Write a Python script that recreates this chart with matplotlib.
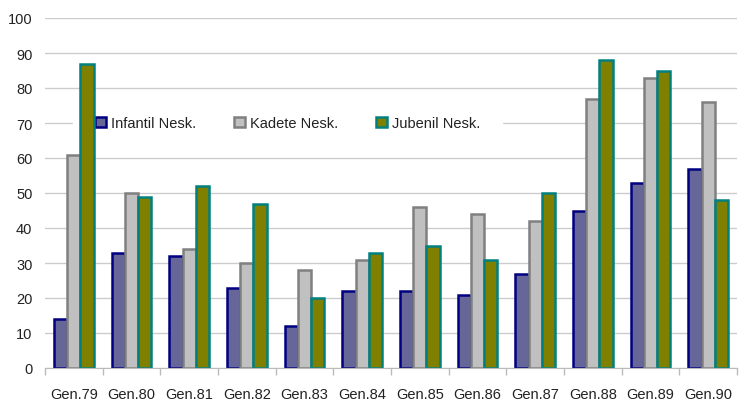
from matplotlib import pyplot as plt
import numpy as np

categories = ["Gen.79", "Gen.80", "Gen.81", "Gen.82", "Gen.83", "Gen.84",
              "Gen.85", "Gen.86", "Gen.87", "Gen.88", "Gen.89", "Gen.90"]
infantil = [14, 33, 32, 23, 12, 22, 22, 21, 27, 45, 53, 57]
kadete = [61, 50, 34, 30, 28, 31, 46, 44, 42, 77, 83, 76]
jubenil = [87, 49, 52, 47, 20, 33, 35, 31, 50, 88, 85, 48]

plt.rcParams['font.family'] = ['Liberation Sans', 'DejaVu Sans']

fig = plt.figure(figsize=(7.42, 4.02), dpi=100)
ax = fig.add_axes([45/742, 33/402, 692/742, 350/402])

x = np.arange(len(categories))
w = 0.23
series = [
    (infantil, "Infantil Nesk.", "#666699", "#000080"),
    (kadete, "Kadete Nesk.", "#C0C0C0", "#808080"),
    (jubenil, "Jubenil Nesk.", "#808000", "#008080"),
]
for i, (vals, label, face, edge) in enumerate(series):
    ax.bar(x + (i - 1) * w, vals, width=w, color=face, edgecolor=edge,
           linewidth=1.8, label=label, zorder=3)

ax.set_xlim(-0.5, len(categories) - 0.5)
ax.set_ylim(0, 100)
ax.set_yticks(range(0, 101, 10))
ax.set_xticks(x)
ax.set_xticklabels(categories)
ax.set_xticks(np.arange(-0.5, len(categories)), minor=True)
ax.tick_params(axis='x', which='major', length=0, pad=14, labelsize=10.5, colors="#222222")
ax.tick_params(axis='x', which='minor', length=5, color="#BBBBBB", width=1)
ax.tick_params(axis='y', length=0, pad=9, labelsize=10.5, colors="#222222")
ax.yaxis.grid(True, color="#CCCCCC", linewidth=1, zorder=0)
for s in ["left", "right", "top"]:
    ax.spines[s].set_visible(False)
ax.spines["bottom"].set_color("#BBBBBB")
ax.spines["bottom"].set_zorder(4)

leg = ax.legend(loc="center left", bbox_to_anchor=(28/692, 0.7), ncol=3,
                frameon=True, fancybox=False, edgecolor="white", framealpha=1,
                fontsize=10.5, handlelength=0.75, handleheight=0.75,
                handletextpad=0.35, columnspacing=2.6, borderpad=1.5,
                borderaxespad=0)
leg.set_zorder(2.5)
for t in leg.get_texts():
    t.set_color("#222222")

fig.savefig("out.png", dpi=100)
plt.close()
